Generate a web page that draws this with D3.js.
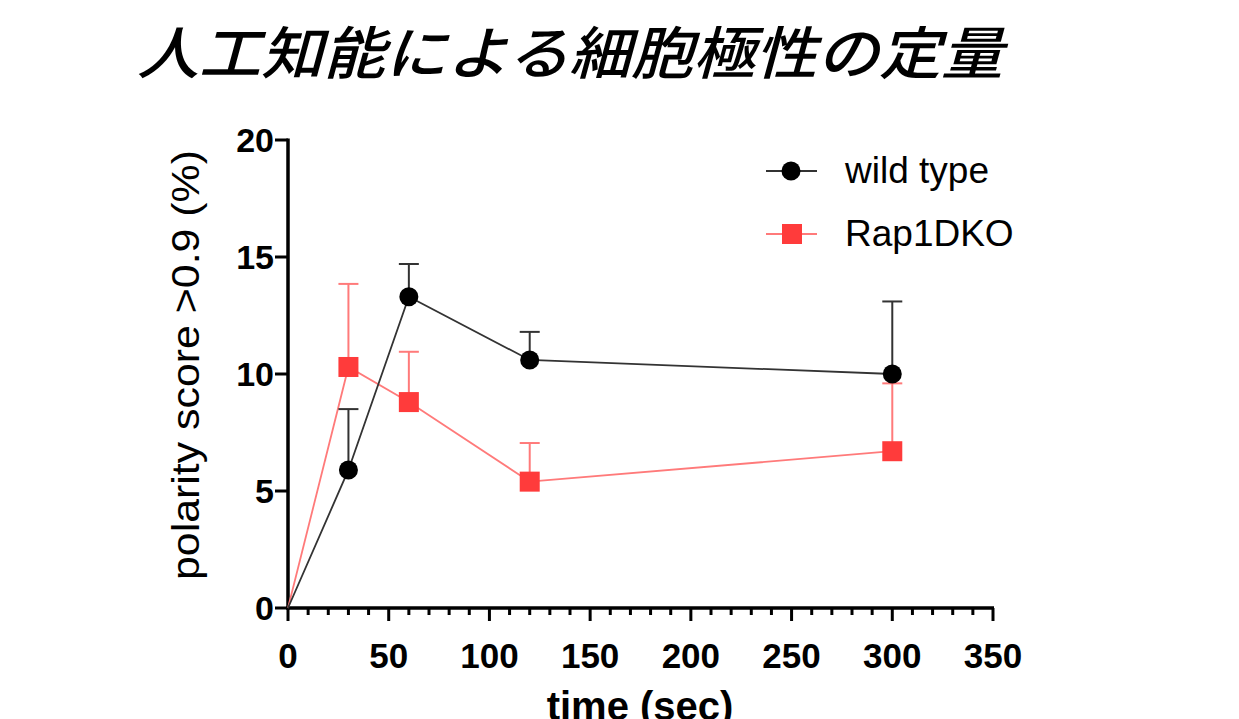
<!DOCTYPE html>
<html>
<head>
<meta charset="utf-8">
<script src="https://cdn.jsdelivr.net/npm/d3@7"></script>
<style>
  body { margin: 0; background: #fff; }
  svg { display: block; }
  .tick_label { font-family: "Liberation Sans", Arial, sans-serif; font-weight: bold; fill: #000; }
</style>
</head>
<body>
<svg id="chart" width="1239" height="719"></svg>
<script>
const times = [0, 30, 60, 120, 300]
const wild_mean = [0, 5.9, 13.3, 10.6, 10.0]
const wild_err_top = [0, 8.5, 14.7, 11.8, 13.1]
const dko_mean = [0, 10.3, 8.8, 5.4, 6.7]
const dko_err_top = [0, 13.85, 10.95, 7.05, 9.6]
const series_names = ["wild type", "Rap1DKO"]
const x_ticks = [0, 50, 100, 150, 200, 250, 300, 350]
const y_ticks = [0, 5, 10, 15, 20]

const svg = d3.select("#chart")
const width = 1239, height = 719

const x = d3.scaleLinear().domain([0, 350]).range([288, 993])
const y = d3.scaleLinear().domain([0, 20]).range([608, 140])

const red = "#ff3b3b"
const red_line = "#ff7a7a"

// title
svg.append("text")
	.attr("x", 137).attr("y", 74)
	.attr("textLength", 866).attr("lengthAdjust", "spacingAndGlyphs")
	.style("font-family", "'Noto Sans CJK JP', sans-serif")
	.style("font-style", "italic")
	.style("font-weight", 500)
	.style("font-size", "57px")
	.text("人工知能による細胞極性の定量")

// y axis
const yAxis = svg.append("g")
yAxis.append("line")
	.attr("x1", x(0)).attr("x2", x(0))
	.attr("y1", y(20) - 1.5).attr("y2", y(0) + 1.5)
	.attr("stroke", "#000").attr("stroke-width", 3.5)
yAxis.selectAll("line.ytick").data(y_ticks).enter().append("line")
	.classed("ytick", true)
	.attr("x1", x(0) - 13).attr("x2", x(0))
	.attr("y1", d => y(d)).attr("y2", d => y(d))
	.attr("stroke", "#000").attr("stroke-width", 3)
yAxis.selectAll("text").data(y_ticks).enter().append("text")
	.classed("tick_label", true)
	.attr("x", x(0) - 14).attr("y", d => y(d) + 12)
	.attr("text-anchor", "end")
	.style("font-size", "34px")
	.text(d => d)

// x axis
const minor_ticks = d3.range(0, 351, 10).filter(d => d % 50 !== 0)
const xAxis = svg.append("g")
xAxis.append("line")
	.attr("x1", x(0) - 1.75).attr("x2", x(350) + 1)
	.attr("y1", y(0)).attr("y2", y(0))
	.attr("stroke", "#000").attr("stroke-width", 3.5)
xAxis.selectAll("line.xmajor").data(x_ticks).enter().append("line")
	.classed("xmajor", true)
	.attr("x1", d => x(d)).attr("x2", d => x(d))
	.attr("y1", y(0)).attr("y2", y(0) + 13)
	.attr("stroke", "#000").attr("stroke-width", 3)
xAxis.selectAll("line.xminor").data(minor_ticks).enter().append("line")
	.classed("xminor", true)
	.attr("x1", d => x(d)).attr("x2", d => x(d))
	.attr("y1", y(0)).attr("y2", y(0) + 7)
	.attr("stroke", "#000").attr("stroke-width", 3)
xAxis.selectAll("text").data(x_ticks).enter().append("text")
	.classed("tick_label", true)
	.attr("x", d => x(d)).attr("y", 668)
	.attr("text-anchor", "middle")
	.style("font-size", "35px")
	.text(d => d)

// axis titles
svg.append("text")
	.attr("transform", "translate(199,365) rotate(-90)")
	.attr("text-anchor", "middle")
	.attr("textLength", 430).attr("lengthAdjust", "spacingAndGlyphs")
	.style("font-family", "'Liberation Sans', Arial, sans-serif")
	.style("font-size", "39px")
	.text("polarity score >0.9 (%)")
svg.append("text")
	.attr("x", 640).attr("y", 720)
	.attr("text-anchor", "middle")
	.style("font-family", "'Liberation Sans', Arial, sans-serif")
	.style("font-weight", "bold")
	.style("font-size", "40px")
	.text("time (sec)")

function draw_series(mean, err_top, color, line_color, shape) {
	const g = svg.append("g")
	const pts = times.map((t, i) => ({t: t, m: mean[i], e: err_top[i]}))
	// error bars (upper only)
	const eb = pts.filter(d => d.t > 0)
	g.selectAll("line.err").data(eb).enter().append("line")
		.attr("x1", d => x(d.t)).attr("x2", d => x(d.t))
		.attr("y1", d => y(d.m)).attr("y2", d => y(d.e))
		.attr("stroke", line_color).attr("stroke-width", 2)
	g.selectAll("line.cap").data(eb).enter().append("line")
		.attr("x1", d => x(d.t) - 10).attr("x2", d => x(d.t) + 10)
		.attr("y1", d => y(d.e)).attr("y2", d => y(d.e))
		.attr("stroke", line_color).attr("stroke-width", 2)
	g.append("path")
		.datum(pts)
		.attr("fill", "none")
		.attr("stroke", line_color).attr("stroke-width", 1.8)
		.attr("d", d3.line().x(d => x(d.t)).y(d => y(d.m)))
	if (shape === "circle") {
		g.selectAll("circle").data(eb).enter().append("circle")
			.attr("cx", d => x(d.t)).attr("cy", d => y(d.m)).attr("r", 9.5)
			.attr("fill", color)
	} else {
		g.selectAll("rect").data(eb).enter().append("rect")
			.attr("x", d => x(d.t) - 10).attr("y", d => y(d.m) - 10)
			.attr("width", 20).attr("height", 20)
			.attr("fill", color)
	}
}

draw_series(dko_mean, dko_err_top, red, red_line, "square")
draw_series(wild_mean, wild_err_top, "#000", "#333", "circle")

// legend
const legend = svg.append("g")
const legend_y = [171, 234]
legend.append("line").attr("x1", 766).attr("x2", 817).attr("y1", legend_y[0]).attr("y2", legend_y[0])
	.attr("stroke", "#333").attr("stroke-width", 1.8)
legend.append("circle").attr("cx", 791).attr("cy", legend_y[0]).attr("r", 9.5).attr("fill", "#000")
legend.append("line").attr("x1", 766).attr("x2", 817).attr("y1", legend_y[1]).attr("y2", legend_y[1])
	.attr("stroke", red_line).attr("stroke-width", 1.8)
legend.append("rect").attr("x", 782).attr("y", legend_y[1] - 10).attr("width", 20).attr("height", 20).attr("fill", red)
legend.selectAll("text").data(series_names).enter().append("text")
	.attr("x", 845).attr("y", (d, i) => legend_y[i] + 12)
	.style("font-family", "'Liberation Sans', Arial, sans-serif")
	.style("font-size", "37px")
	.text(d => d)
</script>
</body>
</html>
